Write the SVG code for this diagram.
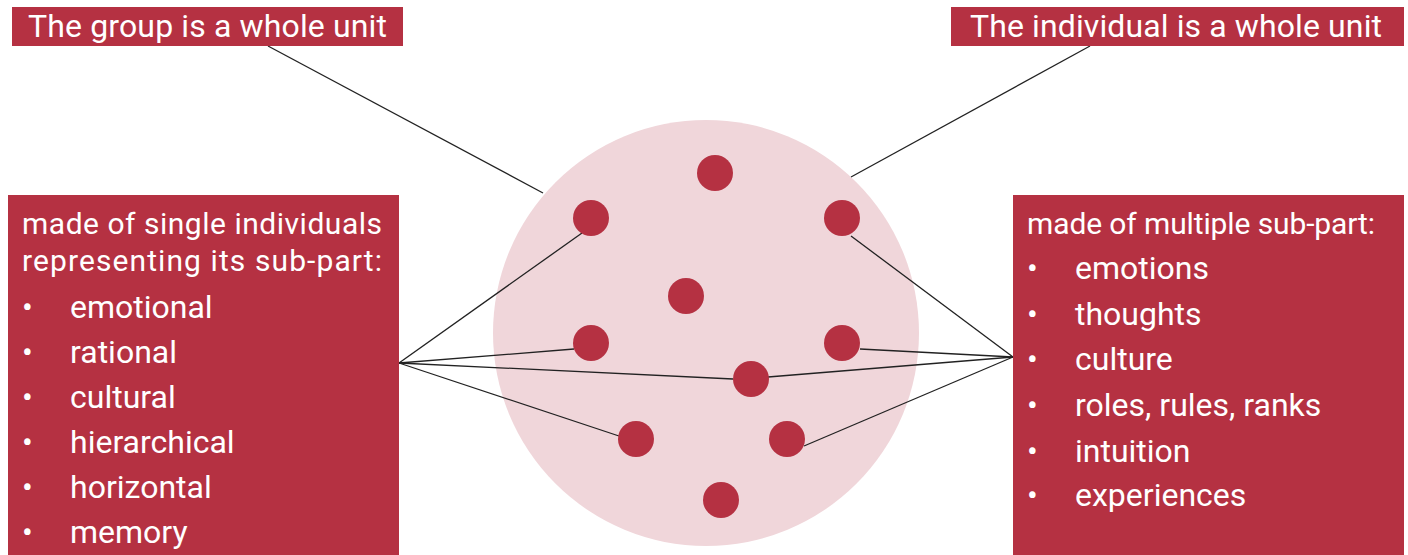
<svg xmlns="http://www.w3.org/2000/svg" width="1408" height="555" viewBox="0 0 1408 555">
<style>
.box{fill:#B53142}
.t{font-family:Roboto,"Liberation Sans",sans-serif;fill:#FFFFFF}
.title{font-size:32px}
.head{font-size:30px;letter-spacing:-1px}
.item{font-size:32px}
.dot{fill:#B53142}
.ln{stroke:#222222;stroke-width:1.3;fill:none}
</style>
<rect width="1408" height="555" fill="#FFFFFF"/>
<g id="whole">
<circle cx="706" cy="333" r="213" fill="#F0D6DA"/>
</g>
<g id="connectors">
<line class="ln" x1="268" y1="46" x2="543" y2="193"/>
<line class="ln" x1="1090" y1="46" x2="851" y2="177"/>
<line class="ln" x1="399" y1="363" x2="582" y2="233"/>
<line class="ln" x1="399" y1="363" x2="574" y2="349"/>
<line class="ln" x1="399" y1="363" x2="733" y2="379"/>
<line class="ln" x1="399" y1="363" x2="619" y2="436"/>
<line class="ln" x1="1013" y1="357" x2="851" y2="236"/>
<line class="ln" x1="1013" y1="357" x2="860" y2="349"/>
<line class="ln" x1="1013" y1="357" x2="768" y2="377"/>
<line class="ln" x1="1013" y1="357" x2="804" y2="446"/>
</g>
<g id="dots">
<circle class="dot" cx="715" cy="173" r="18"/>
<circle class="dot" cx="591" cy="218" r="18"/>
<circle class="dot" cx="842" cy="218" r="18"/>
<circle class="dot" cx="686" cy="296" r="18"/>
<circle class="dot" cx="591" cy="343" r="18"/>
<circle class="dot" cx="842" cy="343" r="18"/>
<circle class="dot" cx="751" cy="379" r="18"/>
<circle class="dot" cx="636" cy="439" r="18"/>
<circle class="dot" cx="787" cy="439" r="18"/>
<circle class="dot" cx="721" cy="500" r="18"/>
</g>
<g id="title-group">
<rect class="box" x="12" y="7" width="391" height="39"/>
<text class="t title" x="28" y="37" textLength="359" lengthAdjust="spacing">The group is a whole unit</text>
</g>
<g id="title-individual">
<rect class="box" x="951" y="7" width="453" height="39"/>
<text class="t title" x="970" y="37" textLength="412" lengthAdjust="spacing">The individual is a whole unit</text>
</g>
<g id="group-box">
<rect class="box" x="8" y="195" width="391" height="360"/>
<text class="t head" x="22" y="234" textLength="359" lengthAdjust="spacing">made of single individuals</text>
<text class="t head" x="22" y="271" textLength="359" lengthAdjust="spacing">representing its sub-part:</text>
<g class="t item">
<text x="22" y="318">•</text><text x="70" y="318">emotional</text>
<text x="22" y="363">•</text><text x="70" y="363">rational</text>
<text x="22" y="408">•</text><text x="70" y="408">cultural</text>
<text x="22" y="453">•</text><text x="70" y="453">hierarchical</text>
<text x="22" y="498">•</text><text x="70" y="498">horizontal</text>
<text x="22" y="543">•</text><text x="70" y="543">memory</text>
</g>
</g>
<g id="individual-box">
<rect class="box" x="1013" y="195" width="391" height="360"/>
<text class="t head" x="1027" y="234" textLength="347" lengthAdjust="spacing">made of  multiple sub-part:</text>
<g class="t item">
<text x="1027" y="279">•</text><text x="1075" y="279">emotions</text>
<text x="1027" y="325">•</text><text x="1075" y="325">thoughts</text>
<text x="1027" y="370">•</text><text x="1075" y="370">culture</text>
<text x="1027" y="416">•</text><text x="1075" y="416">roles, rules, ranks</text>
<text x="1027" y="462">•</text><text x="1075" y="462">intuition</text>
<text x="1027" y="506">•</text><text x="1075" y="506">experiences</text>
</g>
</g>
</svg>
